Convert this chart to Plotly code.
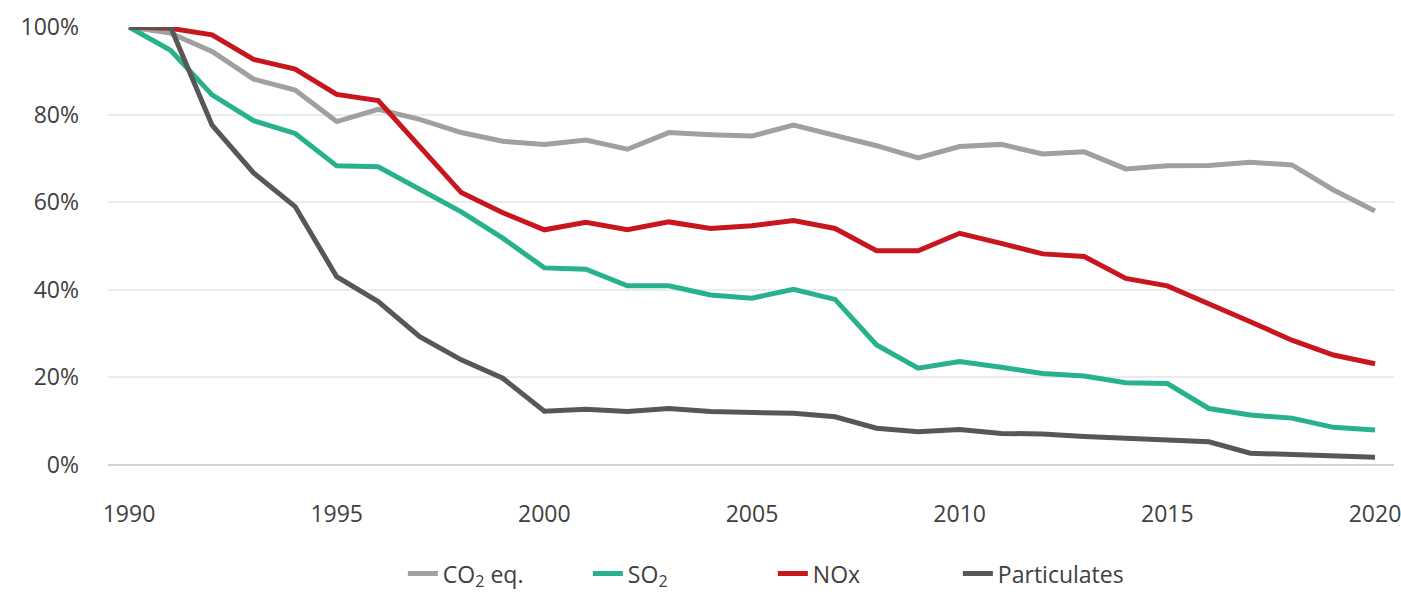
import plotly.graph_objects as go

years = list(range(1990, 2021))

co2 = [100, 98.6, 94.4, 88.1, 85.6, 78.4, 81.2, 78.9, 75.9, 73.9, 73.2,
       74.2, 72.1, 75.9, 75.4, 75.1, 77.6, 75.3, 72.9, 70.1, 72.7,
       73.2, 71.0, 71.5, 67.6, 68.3, 68.4, 69.1, 68.5, 62.8, 58.0]
so2 = [100, 94.7, 84.5, 78.6, 75.7, 68.3, 68.1, 62.8, 57.8, 51.8, 45.0,
       44.7, 40.9, 40.9, 38.8, 38.1, 40.1, 37.8, 27.4, 22.1, 23.6,
       22.3, 20.9, 20.3, 18.8, 18.6, 12.9, 11.4, 10.7, 8.6, 8.0]
nox = [100, 99.7, 98.2, 92.6, 90.4, 84.6, 83.2, 72.7, 62.2, 57.6, 53.7,
       55.4, 53.7, 55.5, 54.0, 54.6, 55.8, 54.0, 48.9, 48.9, 52.9,
       50.6, 48.2, 47.6, 42.6, 40.9, 36.9, 32.7, 28.5, 25.1, 23.1]
particulates = [100, 100, 77.6, 66.7, 59.0, 43.0, 37.3, 29.3, 24.0, 19.8, 12.3,
                12.7, 12.2, 12.9, 12.2, 12.0, 11.8, 11.0, 8.4, 7.6, 8.1,
                7.2, 7.1, 6.5, 6.1, 5.7, 5.3, 2.7, 2.3, 1.9, 1.75]

x_ticks = [1990, 1995, 2000, 2005, 2010, 2015, 2020]
y_ticks = [0, 20, 40, 60, 80, 100]
y_labels = ['0%', '20%', '40%', '60%', '80%', '100%']

series = [
    ('CO<sub>2</sub> eq.', co2, '#a0a0a0'),
    ('SO<sub>2</sub>', so2, '#27b18d'),
    ('NOx', nox, '#c8161e'),
    ('Particulates', particulates, '#575757'),
]

font = 'Open Sans, Noto Sans, sans-serif'

fig = go.Figure()
for name, vals, color in series:
    fig.add_trace(go.Scatter(
        x=years, y=vals, name=name, mode='lines',
        line=dict(color=color, width=5),
        cliponaxis=False,
    ))

fig.update_layout(
    width=1401, height=595,
    margin=dict(l=108, r=7, t=27, b=130),
    paper_bgcolor='white',
    plot_bgcolor='white',
    font=dict(family=font, color='#404040', size=23),
    showlegend=True,
    legend=dict(
        orientation='h',
        x=0.517, xanchor='center',
        yref='container',
        y=0.036, yanchor='middle',
        font=dict(size=23, color='#404040'),
        entrywidth=140,
        entrywidthmode='pixels',
        tracegroupgap=0,
    ),
)
fig.update_xaxes(
    range=[1989.494, 2020.458],
    tickvals=x_ticks,
    showgrid=False,
    zeroline=False,
    showline=False,
    ticks='',
    automargin=False,
    ticklabeloverflow='allow',
    ticklabelstandoff=33,
)
fig.update_yaxes(
    range=[0, 100],
    tickvals=y_ticks,
    ticktext=y_labels,
    showgrid=True,
    gridcolor='#ebebeb',
    gridwidth=2,
    zeroline=True,
    zerolinecolor='#d4d4d4',
    zerolinewidth=2,
    ticks='',
    automargin=False,
    ticklabelstandoff=28,
)

# drop the default 8px body margin so the 1401x595 figure fills the window
fig.write_html('out.html', config={'displayModeBar': False},
               post_script="document.body.style.margin='0';")
